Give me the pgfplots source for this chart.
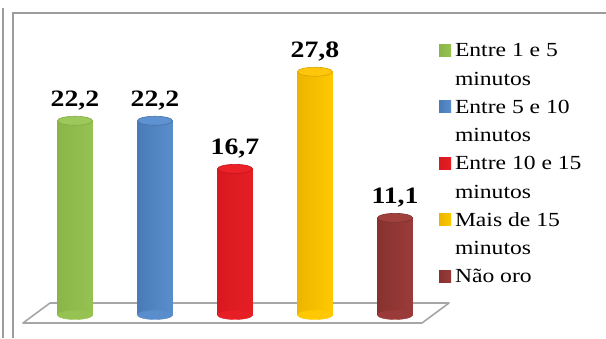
\documentclass[border=0pt]{standalone}
\usepackage{pgfplots}
\pgfplotsset{compat=1.18}
\usepackage{fontspec}
\setmainfont{Liberation Serif}[FakeStretch=1.18]
% cylinder colours: L=left edge, M=highlight, R=right edge, T=top, D=outline, S=legend swatch
\definecolor{gL}{HTML}{8AB548}\definecolor{gM}{HTML}{AED86C}\definecolor{gR}{HTML}{96C252}\definecolor{gT}{HTML}{9DC95B}\definecolor{gD}{HTML}{82AA44}\definecolor{gS}{HTML}{9CCB5C}
\definecolor{bL}{HTML}{4A7BB8}\definecolor{bM}{HTML}{70A3DF}\definecolor{bR}{HTML}{5A8DCC}\definecolor{bT}{HTML}{5F92D0}\definecolor{bD}{HTML}{4471A6}\definecolor{bS}{HTML}{5B8DCB}
\definecolor{rL}{HTML}{D8191F}\definecolor{rM}{HTML}{F5363C}\definecolor{rR}{HTML}{E61E25}\definecolor{rT}{HTML}{EC2229}\definecolor{rD}{HTML}{C0161C}\definecolor{rS}{HTML}{ED1C24}
\definecolor{yL}{HTML}{ECB600}\definecolor{yM}{HTML}{FFD83A}\definecolor{yR}{HTML}{FFC800}\definecolor{yT}{HTML}{FFC60C}\definecolor{yD}{HTML}{D6A200}\definecolor{yS}{HTML}{FFC000}
\definecolor{nL}{HTML}{883230}\definecolor{nM}{HTML}{B0504E}\definecolor{nR}{HTML}{9A3B39}\definecolor{nT}{HTML}{A0413E}\definecolor{nD}{HTML}{7C322F}\definecolor{nS}{HTML}{A0403E}
\definecolor{framegray}{HTML}{9C9C9C}
\definecolor{floorgray}{HTML}{A6A6A6}
\newcommand\legtab[1]{\begin{tabular}[t]{@{}l@{}}#1\end{tabular}}
\begin{document}
\begin{tikzpicture}[x=1bp,y=1bp]
\useasboundingbox (0,0) rectangle (606,338);
\fill[white] (0,0) rectangle (606,338);
\draw[framegray, line width=1.6bp] (2.7,0) -- (2.7,330);
\draw[framegray, line width=1.6bp] (12.7,0) -- (12.7,325) -- (606,325);
\draw[floorgray, line width=1.6bp, fill=white, line join=round] (23,15) -- (50,35) -- (449,35) -- (422,15) -- cycle;
\begin{axis}[
  at={(35bp,23bp)}, anchor=south west,
  scale only axis, width=400bp, height=306.25bp,
  xmin=0.5, xmax=5.5, ymin=0, ymax=35,
  hide axis, clip=false,
  legend style={at={(axis description cs:1.01,0.9069)}, anchor=north west,
    draw=none, fill=none, inner sep=0pt, outer sep=0pt,
    column sep=4bp, row sep=0pt,
    nodes={inner sep=0pt, outer sep=0pt, text depth=, text height=},
    cells={anchor=base west},
    font=\fontsize{20bp}{28.2bp}\selectfont},
  cyl/.style={ybar, bar width=35bp, bar shift=0pt, draw=none},
  cylbase/.style={forget plot, only marks, mark=*, mark size=17.5bp,
    mark options={yscale=0.257, fill=#1, draw=#1}},
  cyltop/.style 2 args={forget plot, only marks, mark=*, mark size=17.5bp,
    mark options={yscale=0.257, fill=#1, draw=#2, line width=0.6bp},
    nodes near coords,
    nodes near coords style={anchor=base, yshift=14bp, inner sep=0pt, text=black,
      font=\bfseries\fontsize{23.5bp}{28bp}\selectfont,
      /pgf/number format/.cd, use comma, fixed, fixed zerofill, precision=1, assume math mode=true}},
]
% Entre 1 e 5 minutos
\addplot[cylbase=gR] coordinates {(1,0)};
\addplot[cyl, left color=gL, middle color=gM, right color=gR,
  legend image code/.code={\fill[gS] (0bp,0.5bp) rectangle (12bp,12.5bp);}] coordinates {(1,22.2)};
\addlegendentry{\legtab{Entre 1 e 5\\minutos}}
\addplot[cyltop={gT}{gD}] coordinates {(1,22.2)};
% Entre 5 e 10 minutos
\addplot[cylbase=bR] coordinates {(2,0)};
\addplot[cyl, left color=bL, middle color=bM, right color=bR,
  legend image code/.code={\fill[bS] (0bp,0.5bp) rectangle (12bp,12.5bp);}] coordinates {(2,22.2)};
\addlegendentry{\legtab{Entre 5 e 10\\minutos}}
\addplot[cyltop={bT}{bD}] coordinates {(2,22.2)};
% Entre 10 e 15 minutos
\addplot[cylbase=rR] coordinates {(3,0)};
\addplot[cyl, left color=rL, middle color=rM, right color=rR,
  legend image code/.code={\fill[rS] (0bp,0.5bp) rectangle (12bp,12.5bp);}] coordinates {(3,16.7)};
\addlegendentry{\legtab{Entre 10 e 15\\minutos}}
\addplot[cyltop={rT}{rD}] coordinates {(3,16.7)};
% Mais de 15 minutos
\addplot[cylbase=yR] coordinates {(4,0)};
\addplot[cyl, left color=yL, middle color=yM, right color=yR,
  legend image code/.code={\fill[yS] (0bp,0.5bp) rectangle (12bp,12.5bp);}] coordinates {(4,27.8)};
\addlegendentry{\legtab{Mais de 15\\minutos}}
\addplot[cyltop={yT}{yD}] coordinates {(4,27.8)};
% Nao oro
\addplot[cylbase=nR] coordinates {(5,0)};
\addplot[cyl, left color=nL, middle color=nM, right color=nR,
  legend image code/.code={\fill[nS] (0bp,0.5bp) rectangle (12bp,12.5bp);}] coordinates {(5,11.1)};
\addlegendentry{\legtab{Não oro}}
\addplot[cyltop={nT}{nD}] coordinates {(5,11.1)};
\end{axis}
\end{tikzpicture}
\end{document}
